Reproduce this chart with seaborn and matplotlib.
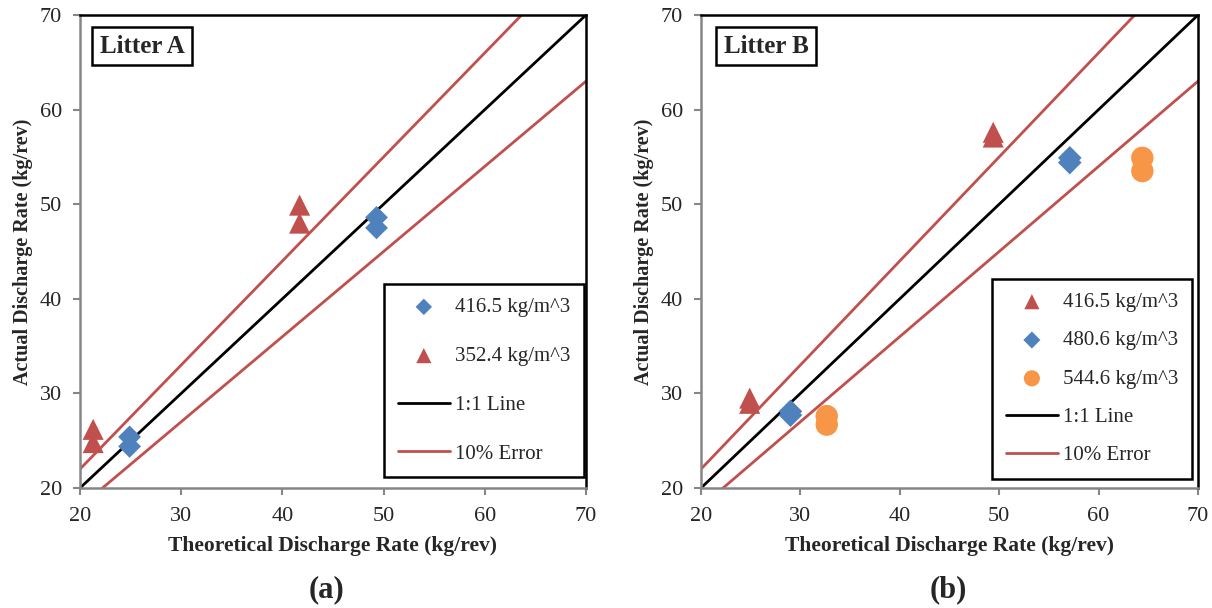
import numpy as np
import pandas as pd
import seaborn as sns
import matplotlib
matplotlib.use("Agg")
import matplotlib.pyplot as plt

# ---------------- data ----------------
# Litter A
a_416_x = [24.9, 24.9, 49.3, 49.3]
a_416_y = [25.4, 24.4, 48.6, 47.5]
a_352_x = [21.3, 21.3, 41.7, 41.7]
a_352_y = [26.2, 24.8, 49.9, 48.0]
# Litter B
b_416_x = [24.9, 24.9, 49.4, 49.4]
b_416_y = [29.5, 28.95, 57.6, 57.1]
b_480_x = [29.0, 29.0, 57.1, 57.1]
b_480_y = [28.1, 27.7, 54.9, 54.4]
b_544_x = [32.65, 32.65, 64.4, 64.4]
b_544_y = [27.6, 26.7, 54.9, 53.5]

line_x = np.array([18.0, 70.0])
one_to_one = 1.0
err_hi = 1.1
err_lo = 0.9

labels_a = ["416.5 kg/m^3", "352.4 kg/m^3"]
labels_b = ["416.5 kg/m^3", "480.6 kg/m^3", "544.6 kg/m^3"]
ticks = [20, 30, 40, 50, 60, 70]

BLUE = "#4F81BD"
RED = "#C0504D"
ORANGE = "#F79646"
GRAY = "#868686"

sns.set_style("white")
plt.rcParams["font.family"] = ["Liberation Serif", "DejaVu Serif"]
plt.rcParams["mathtext.default"] = "regular"

fig = plt.figure(figsize=(12.12, 6.08), dpi=100)
axA = fig.add_axes([80 / 1212, 1 - 488 / 608, 506 / 1212, 473 / 608])
axB = fig.add_axes([701 / 1212, 1 - 488 / 608, 497 / 1212, 473 / 608])


def draw_lines(ax):
    sns.lineplot(x=line_x, y=line_x * one_to_one, color="black", lw=2.0, ax=ax,
                 label="1:1 Line", zorder=2)
    sns.lineplot(x=line_x, y=line_x * err_hi, color=RED, lw=2.0, ax=ax,
                 label="10% Error", zorder=2)
    sns.lineplot(x=line_x, y=line_x * err_lo, color=RED, lw=2.0, ax=ax,
                 label="_nolegend_", zorder=2)


def style_axes(ax, title, tx):
    ax.set_xlim(20, 70)
    ax.set_ylim(20, 70)
    ax.set_xticks(ticks)
    ax.set_yticks(ticks)
    ax.tick_params(axis="both", which="both", direction="out", length=5,
                   width=1.5, color=GRAY, labelsize=16,
                   bottom=True, left=True, top=False, right=False)
    ax.tick_params(axis="x", pad=9)
    ax.tick_params(axis="y", pad=8)
    for s in ["left", "bottom"]:
        ax.spines[s].set_color(GRAY)
        ax.spines[s].set_linewidth(1.8)
    for s in ["top", "right"]:
        ax.spines[s].set_color("black")
        ax.spines[s].set_linewidth(1.8)
    ax.set_xlabel("Theoretical Discharge Rate (kg/rev)", fontsize=15.5,
                  fontweight="bold", labelpad=7)
    ax.set_ylabel("Actual Discharge Rate (kg/rev)", fontsize=14.5,
                  fontweight="bold", labelpad=4.5)
    ax.text(tx, 0.934, title, transform=ax.transAxes, ha="center", va="center",
            fontsize=18, fontweight="bold",
            bbox=dict(boxstyle="square,pad=0.3", facecolor="white",
                      edgecolor="black", linewidth=1.8), zorder=5)


leg_kw = dict(loc="lower right", borderaxespad=0, fontsize=15, frameon=True,
              fancybox=False, edgecolor="black", framealpha=1,
              handlelength=2.5, handletextpad=0.25, borderpad=0.65,
              markerscale=0.72)

# ---------------- Panel A ----------------
draw_lines(axA)
sns.scatterplot(x=a_416_x, y=a_416_y, marker="D", color=BLUE, s=135,
                edgecolor="none", ax=axA, label=labels_a[0], zorder=3)
sns.scatterplot(x=a_352_x, y=a_352_y, marker="^", color=RED, s=230,
                edgecolor="none", ax=axA, label=labels_a[1], zorder=3)
style_axes(axA, "Litter A", 0.123)
h, l = axA.get_legend_handles_labels()
order = [l.index(labels_a[0]), l.index(labels_a[1]), l.index("1:1 Line"),
         l.index("10% Error")]
legA = axA.legend([h[i] for i in order], [l[i] for i in order],
                  bbox_to_anchor=(0.996, 0.023), labelspacing=1.4, **leg_kw)
legA.get_frame().set_linewidth(1.8)

# ---------------- Panel B ----------------
draw_lines(axB)
sns.scatterplot(x=b_416_x, y=b_416_y, marker="^", color=RED, s=230,
                edgecolor="none", ax=axB, label=labels_b[0], zorder=3)
sns.scatterplot(x=b_480_x, y=b_480_y, marker="D", color=BLUE, s=145,
                edgecolor="none", ax=axB, label=labels_b[1], zorder=3)
sns.scatterplot(x=b_544_x, y=b_544_y, marker="o", color=ORANGE, s=260,
                edgecolor="none", ax=axB, label=labels_b[2], zorder=3)
style_axes(axB, "Litter B", 0.131)
h, l = axB.get_legend_handles_labels()
order = [l.index(labels_b[0]), l.index(labels_b[1]), l.index(labels_b[2]),
         l.index("1:1 Line"), l.index("10% Error")]
legB = axB.legend([h[i] for i in order], [l[i] for i in order],
                  bbox_to_anchor=(0.988, 0.019), labelspacing=0.9, **leg_kw)
legB.get_frame().set_linewidth(1.8)

fig.text(327 / 1212, 1 - 590 / 608, "(a)", ha="center", va="center",
         fontsize=22, fontweight="bold")
fig.text(948 / 1212, 1 - 590 / 608, "(b)", ha="center", va="center",
         fontsize=22, fontweight="bold")

fig.savefig("out.png", dpi=100, facecolor="white")
